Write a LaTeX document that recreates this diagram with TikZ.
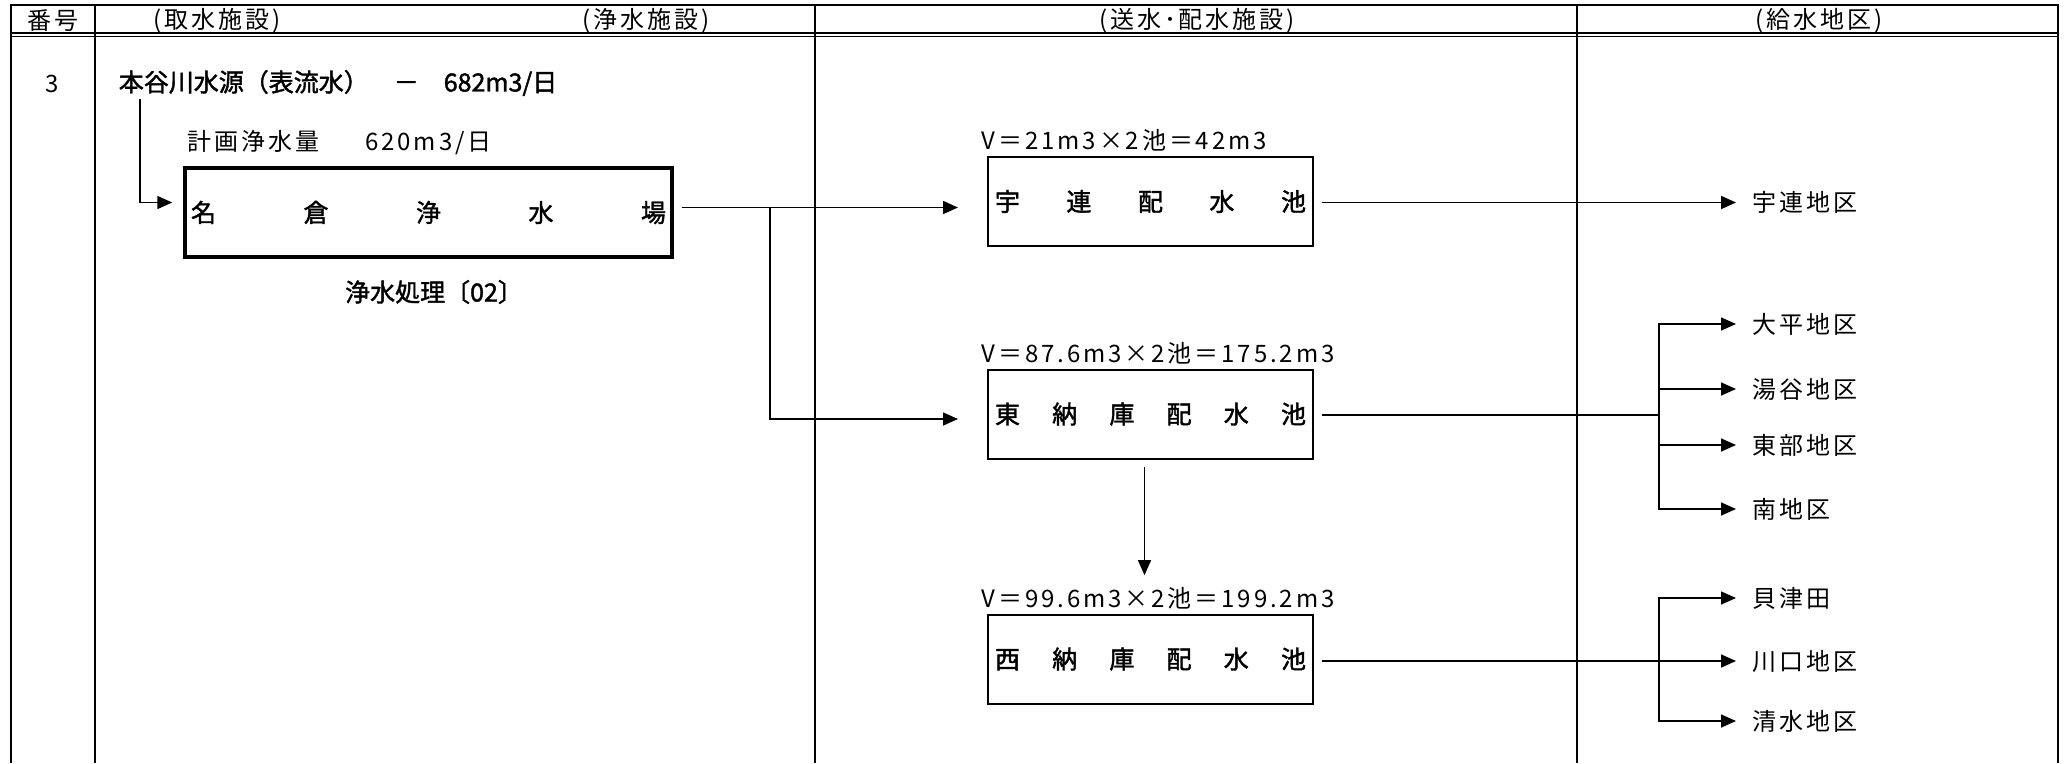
\documentclass[tikz,border=0pt]{standalone}
\usepackage{fontspec}
\setmainfont{Noto Sans CJK JP}
\newfontfamily\minfont{Noto Sans CJK JP}[LetterSpace=12]
\newfontfamily\gothfont{Noto Sans CJK JP}[FakeBold=1.6]
\newcommand\minsz{\minfont\fontsize{24}{28}\selectfont}
\newcommand\gothsz{\gothfont\fontsize{25}{29}\selectfont}
\usetikzlibrary{arrows.meta,positioning}

\begin{document}
\begin{tikzpicture}[x=1pt,y=-1pt,->,>={Triangle[length=15pt,width=13pt]},
                    line width=1.6pt]
  \tikzstyle{every node}=[inner sep=2pt]
  \tikzstyle{head}=[font=\minsz]
  \tikzstyle{gtxt}=[font=\gothsz]
  \tikzstyle{vol}=[font=\minsz,anchor=south west]
  \tikzstyle{plant}=[draw,line width=3.5pt,minimum height=89pt,inner xsep=6pt,font=\gothsz]
  \tikzstyle{pool}=[draw,line width=2pt,minimum height=89pt,inner xsep=7pt,font=\gothsz]
  \tikzstyle{dist}=[font=\minsz,anchor=west,inner xsep=16pt]
  \useasboundingbox (0,0) rectangle (2064,763);

  % table
  \draw[-] (11,763) -- (11,5) -- (2058,5) -- (2058,763);
  \foreach \x in {95,815,1577} \draw[-] (\x,5) -- (\x,763);
  \draw[-] (11,33) -- (2058,33);
  \draw[-] (11,36.5) -- (2058,36.5);

  \node[head] (H0) at (53,21)   {番号};
  \node[head] (H1) at (217,21)  {(取水施設)};
  \node[head] (H2) at (646,21)  {(浄水施設)};
  \node[head] (H3) at (1197,21) {(送水･配水施設)};
  \node[head] (H4) at (1819,21) {(給水地区)};
  \node[head] (NO) at (52,84)   {3};

  % source and plant
  \node[gtxt,anchor=west] (SRC) at (116,83) {本谷川水源（表流水）　－　682m3/日};
  \node[head,anchor=west] (PQ)  at (185,143) {計画浄水量\hspace{46pt}620m3/日};
  \node[plant] (NK) at (428.5,212.5)
    {\makebox[475pt]{名\hfill{}倉\hfill{}浄\hfill{}水\hfill{}場}};
  \node[gtxt] (TR) at (434,292) {浄水処理〔02〕};

  % reservoirs
  \node[pool] (UR) at (1150.5,201.5)
    {\makebox[311pt]{宇\hfill{}連\hfill{}配\hfill{}水\hfill{}池}};
  \node[pool] (EN) at (1150.5,414)
    {\makebox[311pt]{東\hfill{}納\hfill{}庫\hfill{}配\hfill{}水\hfill{}池}};
  \node[pool] (WN) at (1150.5,659)
    {\makebox[311pt]{西\hfill{}納\hfill{}庫\hfill{}配\hfill{}水\hfill{}池}};
  \node[vol] (VUR) at ([xshift=-8pt,yshift=2pt]UR.north west) {V＝21m3×2池＝42m3};
  \node[vol] (VEN) at ([xshift=-8pt,yshift=2pt]EN.north west) {V＝87.6m3×2池＝175.2m3};
  \node[vol] (VWN) at ([xshift=-8pt,yshift=2pt]WN.north west) {V＝99.6m3×2池＝199.2m3};

  % districts
  \node[dist] (D0) at (1736,202.5) {宇連地区};
  \node[dist] (D1) at (1736,324)   {大平地区};
  \node[dist] (D2) at (1736,389)   {湯谷地区};
  \node[dist] (D3) at (1736,445)   {東部地区};
  \node[dist] (D4) at (1736,509)   {南地区};
  \node[dist] (D5) at (1736,598)   {貝津田};
  \node[dist] (D6) at (1736,661)   {川口地区};
  \node[dist] (D7) at (1736,721)   {清水地区};

  \coordinate (SP) at (770,207.5);
  \coordinate (EJ) at (1659,415);
  \coordinate (WJ) at (1659,661);

  \draw[->,shorten >=11pt] ([xshift=24pt]SRC.south west) |- ([yshift=10pt]NK.west);
  \draw[-,shorten <=8pt] ([yshift=5pt]NK.east) -- (SP);
  \draw[->,shorten >=29pt] (SP) -- (SP -| UR.west);
  \draw[->,shorten >=29pt] (SP) |- ([yshift=-5pt]EN.west);
  \draw[->,shorten <=7pt,shorten >=9pt] ([xshift=-6pt]EN.south) -- ([xshift=-6pt]EN.south |- VWN.north);

  \draw[->,shorten <=8pt] (UR.east |- D0) -- (D0);
  \draw[-,shorten <=8pt] (EN.east |- EJ) -- (EJ);
  \foreach \d in {D1,D2,D3,D4} \draw[->] (EJ) |- (\d);
  \draw[->,shorten <=8pt] (WN.east |- D6) -- (D6);
  \foreach \d in {D5,D7} \draw[->] (WJ) |- (\d);

\end{tikzpicture}
\end{document}
